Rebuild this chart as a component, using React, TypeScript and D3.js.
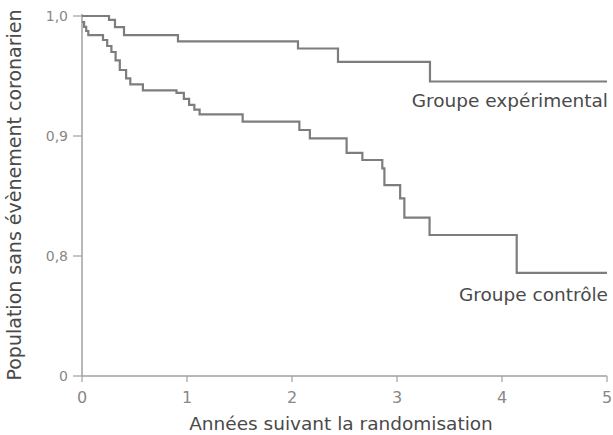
import React from "react";
import * as d3 from "d3";

const expTimes = [0, 0.257, 0.314, 0.4, 0.914, 2.057, 2.438, 3.314, 5];
const expValues = [1.0, 0.9967, 0.9908, 0.984, 0.9788, 0.9729, 0.9617, 0.9454, 0.9454];

const ctrlTimes = [0, 0.02, 0.04, 0.06, 0.2, 0.24, 0.28, 0.32, 0.36, 0.42, 0.46, 0.58, 0.9, 0.97, 1.02, 1.07, 1.12, 1.53, 2.07, 2.17, 2.52, 2.67, 2.86, 2.88, 3.03, 3.07, 3.31, 4.14, 5];
const ctrlValues = [0.995, 0.991, 0.9875, 0.984, 0.98, 0.975, 0.97, 0.963, 0.955, 0.948, 0.943, 0.938, 0.936, 0.931, 0.926, 0.922, 0.918, 0.912, 0.905, 0.898, 0.886, 0.88, 0.873, 0.859, 0.848, 0.832, 0.8175, 0.786, 0.786];

const xTicks = [0, 1, 2, 3, 4, 5];
const yTickValues = [1.0, 0.9, 0.8, 0.7];
const yTickLabels = ["1,0", "0,9", "0,8", "0"];

const seriesLabels = ["Groupe expérimental", "Groupe contrôle"];
const xTitle = "Années suivant la randomisation";
const yTitle = "Population sans évènement coronarien";

export default function App() {
  const W = 613, H = 435;
  const x = d3.scaleLinear().domain([0, 5]).range([82, 607]);
  const y = d3.scaleLinear().domain([0.7, 1.0]).range([376, 16]);
  const line = d3
    .line<[number, number]>()
    .x((d) => x(d[0]))
    .y((d) => y(d[1]))
    .curve(d3.curveStepAfter);
  const expData: [number, number][] = expTimes.map((t, i) => [t, expValues[i]]);
  const ctrlData: [number, number][] = ctrlTimes.map((t, i) => [t, ctrlValues[i]]);
  const font = "DejaVu Sans, sans-serif";
  const curveColor = "#7d7d7d";
  const axisColor = "#a0a0a0";
  const textColor = "#4a4a4a";
  return (
    <svg width={W} height={H} style={{ position: "absolute", left: 0, top: 0, background: "#fff" }}>
      {/* axes */}
      <line x1={x(0)} x2={x(0)} y1={14} y2={y(0.7)} stroke={axisColor} strokeWidth={1.5} />
      <line x1={x(0)} x2={x(5)} y1={y(0.7)} y2={y(0.7)} stroke={axisColor} strokeWidth={1.5} />
      {yTickValues.map((v, i) => (
        <g key={"yt" + i}>
          <line x1={x(0) - 9} x2={x(0)} y1={y(v)} y2={y(v)} stroke={axisColor} strokeWidth={1.2} />
          <text x={x(0) - 14} y={y(v)} dy="0.35em" textAnchor="end" fontFamily={font} fontSize={14} fill="#888">
            {yTickLabels[i]}
          </text>
        </g>
      ))}
      {xTicks.map((t) => (
        <g key={"xt" + t}>
          <line x1={x(t)} x2={x(t)} y1={y(0.7)} y2={y(0.7) + 6} stroke={axisColor} strokeWidth={1.2} />
          <text x={x(t)} y={y(0.7) + 27} textAnchor="middle" fontFamily={font} fontSize={16} fill="#888">
            {t}
          </text>
        </g>
      ))}
      {/* curves */}
      <path d={line(expData) || ""} fill="none" stroke={curveColor} strokeWidth={2.2} />
      <path d={line(ctrlData) || ""} fill="none" stroke={curveColor} strokeWidth={2.2} />
      {/* labels */}
      <text x={608} y={107} textAnchor="end" fontFamily={font} fontSize={18.5} fill={textColor}>
        {seriesLabels[0]}
      </text>
      <text x={608} y={301} textAnchor="end" fontFamily={font} fontSize={18.5} fill={textColor}>
        {seriesLabels[1]}
      </text>
      <text x={341} y={430} textAnchor="middle" fontFamily={font} fontSize={18.5} fill={textColor}>
        {xTitle}
      </text>
      <text
        transform={`translate(21,195) rotate(-90)`}
        textAnchor="middle"
        fontFamily={font}
        fontSize={19}
        fill={textColor}
      >
        {yTitle}
      </text>
    </svg>
  );
}
